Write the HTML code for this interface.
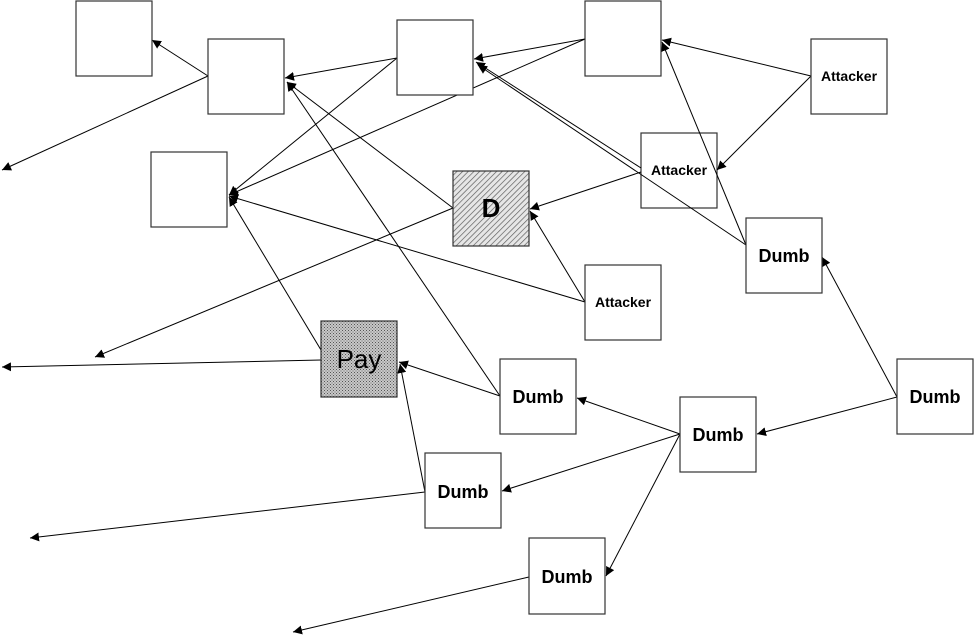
<!DOCTYPE html>
<html><head><style>html,body{margin:0;padding:0;background:#fff;}svg{display:block}</style></head>
<body>
<svg width="978" height="636" viewBox="0 0 978 636" xmlns="http://www.w3.org/2000/svg" font-family="Liberation Sans, sans-serif">
<defs>
<marker id="a" viewBox="0 0 10 10" refX="10" refY="5" markerWidth="9" markerHeight="9" orient="auto" markerUnits="userSpaceOnUse"><path d="M0,0 L10,5 L0,10 z" fill="#000"/></marker>
<pattern id="h" width="4" height="4" patternUnits="userSpaceOnUse" patternTransform="rotate(45)"><rect width="4" height="4" fill="#e6e6e6"/><line x1="0" y1="0" x2="0" y2="4" stroke="#555" stroke-width="1.3"/></pattern>
<pattern id="d" width="3" height="3" patternUnits="userSpaceOnUse"><rect width="3" height="3" fill="#c8c8c8"/><rect width="1" height="1" fill="#555"/><rect x="1.5" y="1.5" width="1" height="1" fill="#666"/></pattern>
</defs>
<g stroke="#333" stroke-width="1.2" fill="#fff">
<rect x="641" y="133" width="76" height="75" fill="none"/>
</g>
<g stroke="#000" stroke-width="1" fill="none" marker-end="url(#a)">
<line x1="208" y1="76" x2="152" y2="40"/>
<line x1="208" y1="76" x2="2" y2="170"/>
<line x1="397" y1="58" x2="285" y2="78"/>
<line x1="397" y1="58" x2="229" y2="195"/>
<line x1="585" y1="39" x2="474" y2="59"/>
<line x1="585" y1="39" x2="229" y2="195"/>
<line x1="453" y1="208" x2="287" y2="82"/>
<line x1="453" y1="208" x2="95" y2="357"/>
<line x1="500" y1="396" x2="287" y2="82"/>
<line x1="641" y1="168" x2="476" y2="62"/>
<line x1="746" y1="245" x2="478" y2="65"/>
<line x1="811" y1="76" x2="662" y2="40"/>
<line x1="746" y1="245" x2="662" y2="42"/>
<line x1="811" y1="76" x2="717" y2="170"/>
<line x1="641" y1="172" x2="530" y2="209"/>
<line x1="585" y1="302" x2="530" y2="211"/>
<line x1="585" y1="302" x2="229" y2="196"/>
<line x1="321" y1="350" x2="229" y2="197"/>
<line x1="321" y1="360" x2="2" y2="367"/>
<line x1="500" y1="396" x2="399" y2="362"/>
<line x1="425" y1="492" x2="400" y2="364"/>
<line x1="425" y1="492" x2="30" y2="538"/>
<line x1="529" y1="577" x2="293" y2="632"/>
<line x1="680" y1="434" x2="577" y2="398"/>
<line x1="680" y1="434" x2="502" y2="491"/>
<line x1="680" y1="434" x2="606" y2="576"/>
<line x1="897" y1="397" x2="757" y2="434"/>
<line x1="897" y1="397" x2="822" y2="257"/>
</g>
<g stroke="#333" stroke-width="1.2" fill="#fff">
<rect x="76" y="1" width="76" height="75"/>
<rect x="208" y="39" width="76" height="75"/>
<rect x="397" y="20" width="76" height="75"/>
<rect x="585" y="1" width="76" height="75"/>
<rect x="811" y="39" width="76" height="75"/>
<rect x="151" y="152" width="76" height="75"/>
<rect x="453" y="171" width="76" height="75" fill="url(#h)"/>
<rect x="746" y="218" width="76" height="75"/>
<rect x="585" y="265" width="76" height="75"/>
<rect x="321" y="321" width="76" height="76" fill="url(#d)"/>
<rect x="500" y="359" width="76" height="75"/>
<rect x="897" y="359" width="76" height="75"/>
<rect x="680" y="397" width="76" height="75"/>
<rect x="425" y="453" width="76" height="75"/>
<rect x="529" y="538" width="76" height="76"/>
</g>
<g fill="#000" font-weight="bold" text-anchor="middle">
<text x="849" y="81" font-size="14">Attacker</text>
<text x="679" y="175" font-size="14">Attacker</text>
<text x="623" y="307" font-size="14">Attacker</text>
<text x="784" y="262" font-size="18">Dumb</text>
<text x="538" y="403" font-size="18">Dumb</text>
<text x="935" y="403" font-size="18">Dumb</text>
<text x="718" y="441" font-size="18">Dumb</text>
<text x="463" y="498" font-size="18">Dumb</text>
<text x="567" y="583" font-size="18">Dumb</text>
<text x="491" y="217" font-size="26">D</text>
<text x="359" y="368" font-size="26" font-weight="normal">Pay</text>
</g>
</svg>
</body></html>
